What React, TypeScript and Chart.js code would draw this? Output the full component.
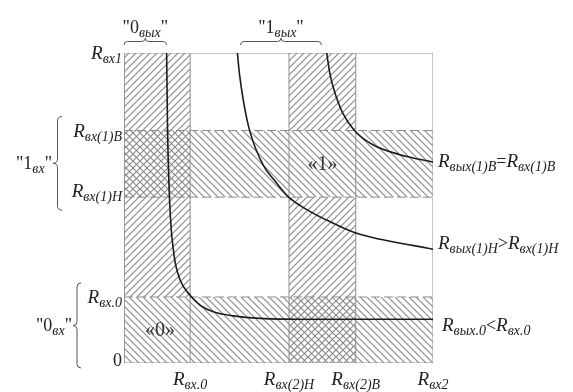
import React, { useEffect, useRef } from "react";
import { Chart, registerables } from "chart.js";

Chart.register(...registerables);

// ---- axis ranges and threshold levels (data units) ----
const X_MIN = 0;
const X_MAX = 10;
const Y_MIN = 0;
const Y_MAX = 10;

// thresholds on the horizontal axis (R_вх2)
const xTickValues = [2.14, 5.34, 7.5, 10];
const xTickLabels = ["R_{вх.0}", "R_{вх(2)Н}", "R_{вх(2)В}", "R_{вх2}"];

// thresholds on the vertical axis (R_вх1)
const yTickValues = [0, 2.13, 5.35, 7.5, 10];
const yTickLabels = ["0", "R_{вх.0}", "R_{вх(1)Н}", "R_{вх(1)В}", "R_{вх1}"];

// ---- transfer curves ----
const curveZeroX = [1.38, 1.41, 1.47, 1.53, 1.56, 1.66, 1.815, 2.13, 2.46, 2.89, 3.54, 4.4, 6.02, 10];
const curveZeroY = [10, 7.52, 5.36, 4.29, 3.97, 3.22, 2.68, 2.19, 1.87, 1.65, 1.52, 1.44, 1.41, 1.41];

const curveLowX = [3.67, 3.74, 3.86, 4.06, 4.5, 4.89, 5.32, 6.0, 6.56, 7.51, 10];
const curveLowY = [10, 9.3, 8.48, 7.52, 6.39, 5.87, 5.36, 4.9, 4.61, 4.19, 3.67];

const curveHighX = [6.56, 6.67, 6.8, 7.08, 7.45, 8.07, 8.93, 10];
const curveHighY = [10, 9.3, 8.8, 8.06, 7.51, 7.03, 6.72, 6.48];

const curveLabels = [
  "R_{вых(1)В}=R_{вх(1)В}",
  "R_{вых(1)Н}>R_{вх(1)Н}",
  "R_{вых.0}<R_{вх.0}",
];

// ---- logic-level annotations ----
const outputLevelLabels = ['"0_{вых}"', '"1_{вых}"'];
const inputLevelLabels = ['"1_{вх}"', '"0_{вх}"'];
const stateLabels = ["«1»", "«0»"];

const HATCH = "#8a8a8a";
const GRID = "#8e8e8e";
const INK = "#222222";
const FONT = '"Liberation Serif", "Times New Roman", serif';

type Seg = { t: string; sub: boolean };

function parseRich(s: string): Seg[] {
  const out: Seg[] = [];
  const re = /_\{([^}]*)\}/g;
  let last = 0;
  let m: RegExpExecArray | null;
  while ((m = re.exec(s))) {
    if (m.index > last) out.push({ t: s.slice(last, m.index), sub: false });
    out.push({ t: m[1], sub: true });
    last = m.index + m[0].length;
  }
  if (last < s.length) out.push({ t: s.slice(last), sub: false });
  return out;
}

function fontFor(ch: string, sub: boolean): string {
  if (sub) return `italic 14px ${FONT}`;
  if (/[A-Za-z]/.test(ch)) return `italic 19px ${FONT}`;
  return `18px ${FONT}`;
}

function pieces(s: string) {
  const res: { t: string; font: string; dy: number }[] = [];
  for (const seg of parseRich(s)) {
    if (seg.sub) {
      res.push({ t: seg.t, font: fontFor("", true), dy: 4 });
    } else {
      for (const ch of seg.t) res.push({ t: ch, font: fontFor(ch, false), dy: 0 });
    }
  }
  return res;
}

function richWidth(ctx: CanvasRenderingContext2D, s: string): number {
  let w = 0;
  for (const p of pieces(s)) {
    ctx.font = p.font;
    w += ctx.measureText(p.t).width;
  }
  return w;
}

function drawRich(
  ctx: CanvasRenderingContext2D,
  s: string,
  x: number,
  y: number,
  align: "left" | "right" | "center"
) {
  const w = richWidth(ctx, s);
  let cx = align === "left" ? x : align === "right" ? x - w : x - w / 2;
  ctx.textAlign = "left";
  ctx.textBaseline = "alphabetic";
  ctx.fillStyle = INK;
  for (const p of pieces(s)) {
    ctx.font = p.font;
    ctx.fillText(p.t, cx, y + p.dy);
    cx += ctx.measureText(p.t).width;
  }
}

function braceV(ctx: CanvasRenderingContext2D, x: number, y1: number, y2: number, w: number) {
  const ym = (y1 + y2) / 2;
  const s = x - w / 2;
  ctx.beginPath();
  ctx.moveTo(x, y1);
  ctx.quadraticCurveTo(s, y1, s, y1 + w / 2);
  ctx.lineTo(s, ym - w / 2);
  ctx.quadraticCurveTo(s, ym, x - w, ym);
  ctx.quadraticCurveTo(s, ym, s, ym + w / 2);
  ctx.lineTo(s, y2 - w / 2);
  ctx.quadraticCurveTo(s, y2, x, y2);
  ctx.stroke();
}

function braceH(ctx: CanvasRenderingContext2D, x1: number, x2: number, y: number, w: number) {
  const xm = (x1 + x2) / 2;
  const s = y - w / 2;
  ctx.beginPath();
  ctx.moveTo(x1, y);
  ctx.quadraticCurveTo(x1, s, x1 + w / 2, s);
  ctx.lineTo(xm - w / 2, s);
  ctx.quadraticCurveTo(xm, s, xm, y - w);
  ctx.quadraticCurveTo(xm, s, xm + w / 2, s);
  ctx.lineTo(x2 - w / 2, s);
  ctx.quadraticCurveTo(x2, s, x2, y);
  ctx.stroke();
}

function makeHatch(ctx: CanvasRenderingContext2D, forward: boolean): CanvasPattern {
  const s = 7;
  const c = document.createElement("canvas");
  c.width = s;
  c.height = s;
  const g = c.getContext("2d")!;
  g.strokeStyle = HATCH;
  g.lineWidth = 1.15;
  g.beginPath();
  if (forward) {
    g.moveTo(-1, s + 1);
    g.lineTo(s + 1, -1);
    g.moveTo(-1, 1);
    g.lineTo(1, -1);
    g.moveTo(s - 1, s + 1);
    g.lineTo(s + 1, s - 1);
  } else {
    g.moveTo(-1, -1);
    g.lineTo(s + 1, s + 1);
    g.moveTo(-1, s - 1);
    g.lineTo(1, s + 1);
    g.moveTo(s - 1, -1);
    g.lineTo(s + 1, 1);
  }
  g.stroke();
  return ctx.createPattern(c, "repeat")!;
}

function zip(xs: number[], ys: number[]) {
  return xs.map((x, i) => ({ x, y: ys[i] }));
}

export default function App() {
  const ref = useRef<HTMLCanvasElement | null>(null);

  useEffect(() => {
    const canvas = ref.current;
    if (!canvas) return;
    const ctx = canvas.getContext("2d")!;
    const slash = makeHatch(ctx, true);
    const back = makeHatch(ctx, false);

    const [x0, xH, xB] = xTickValues;
    const [, y0, yH, yB] = yTickValues;

    const zone = (xa: number, xb: number, ya: number, yb: number, pat: CanvasPattern) => ({
      data: [
        { x: xa, y: yb },
        { x: xb, y: yb },
      ],
      fill: { value: ya },
      backgroundColor: pat,
      borderColor: "rgba(0,0,0,0)",
      borderWidth: 0,
      pointRadius: 0,
      tension: 0,
    });

    const line = (pts: { x: number; y: number }[], dash: number[] = []) => ({
      data: pts,
      fill: false,
      borderColor: GRID,
      borderWidth: 1,
      borderDash: dash,
      pointRadius: 0,
      tension: 0,
    });

    const curve = (xs: number[], ys: number[]) => ({
      data: zip(xs, ys),
      fill: false,
      borderColor: "#1c1c1c",
      borderWidth: 1.6,
      pointRadius: 0,
      cubicInterpolationMode: "monotone" as const,
    });

    const datasets: any[] = [
      curve(curveZeroX, curveZeroY),
      curve(curveLowX, curveLowY),
      curve(curveHighX, curveHighY),
      // frame
      line([
        { x: X_MIN, y: Y_MIN },
        { x: X_MAX, y: Y_MIN },
        { x: X_MAX, y: Y_MAX },
        { x: X_MIN, y: Y_MAX },
        { x: X_MIN, y: Y_MIN },
      ]),
      // vertical threshold lines
      line([{ x: x0, y: Y_MIN }, { x: x0, y: Y_MAX }]),
      line([{ x: xH, y: Y_MIN }, { x: xH, y: Y_MAX }]),
      line([{ x: xB, y: Y_MIN }, { x: xB, y: Y_MAX }]),
      // horizontal dashed threshold lines
      line([{ x: X_MIN, y: y0 }, { x: X_MAX, y: y0 }], [9, 4]),
      line([{ x: X_MIN, y: yH }, { x: X_MAX, y: yH }], [9, 4]),
      line([{ x: X_MIN, y: yB }, { x: X_MAX, y: yB }], [9, 4]),
      // hatched zones
      zone(X_MIN, x0, y0, Y_MAX, slash),
      zone(xH, xB, Y_MIN, yH, slash),
      zone(xH, xB, yB, Y_MAX, slash),
      zone(X_MIN, X_MAX, yH, yB, back),
      zone(X_MIN, X_MAX, Y_MIN, y0, back),
    ];

    const annot = {
      id: "annot",
      afterDraw(chart: any) {
        const c: CanvasRenderingContext2D = chart.ctx;
        const sx = chart.scales.x;
        const sy = chart.scales.y;
        const area = chart.chartArea;
        c.save();

        // x-axis labels
        xTickValues.forEach((v, i) => {
          drawRich(c, xTickLabels[i], sx.getPixelForValue(v), area.bottom + 22, "center");
        });

        // y-axis labels
        const yDy = [3, 6, 0, 6, 6];
        yTickValues.forEach((v, i) => {
          drawRich(c, yTickLabels[i], area.left - 2, sy.getPixelForValue(v) + yDy[i], "right");
        });

        // curve labels at the right edge
        const ends = [curveHighY, curveLowY, curveZeroY].map((a) => a[a.length - 1]);
        const rDy = [5, 0, 12];
        const rDx = [5, 5, 9];
        ends.forEach((v, i) => {
          drawRich(c, curveLabels[i], area.right + rDx[i], sy.getPixelForValue(v) + rDy[i], "left");
        });

        // braces
        c.strokeStyle = "#555";
        c.lineWidth = 1;
        const topY = area.top - 8;
        const b0a = sx.getPixelForValue(X_MIN);
        const b0b = sx.getPixelForValue(curveZeroX[0]);
        const b1a = sx.getPixelForValue(curveLowX[0] + 0.1);
        const b1b = sx.getPixelForValue(curveHighX[0] - 0.17);
        braceH(c, b0a, b0b, topY, 7);
        braceH(c, b1a, b1b, topY, 7);
        drawRich(c, outputLevelLabels[0], (b0a + b0b) / 2, area.top - 20, "center");
        drawRich(c, outputLevelLabels[1], (b1a + b1b) / 2, area.top - 20, "center");

        const v1a = sy.getPixelForValue(yB) - 14;
        const v1b = sy.getPixelForValue(yH) + 13;
        braceV(c, 62, v1a, v1b, 9);
        drawRich(c, inputLevelLabels[0], 52, (v1a + v1b) / 2 + 6, "right");
        const v0a = sy.getPixelForValue(y0) - 14;
        const v0b = sy.getPixelForValue(Y_MIN) + 5;
        braceV(c, 81, v0a, v0b, 8);
        drawRich(c, inputLevelLabels[1], 72, (v0a + v0b) / 2 + 6, "right");

        // state labels
        c.font = `20px ${FONT}`;
        c.fillStyle = "#333";
        c.textAlign = "center";
        c.textBaseline = "middle";
        c.fillText(stateLabels[0], sx.getPixelForValue((xH + xB) / 2), sy.getPixelForValue((yH + yB) / 2) + 1);
        c.fillText(stateLabels[1], sx.getPixelForValue((X_MIN + x0) / 2) + 3, sy.getPixelForValue((Y_MIN + y0) / 2) + 1);

        c.restore();
      },
    };

    const chart = new Chart(canvas, {
      type: "line",
      data: { datasets },
      options: {
        responsive: false,
        animation: false,
        layout: { padding: { left: 124, right: 140, top: 53, bottom: 29 } },
        scales: {
          x: { type: "linear", min: X_MIN, max: X_MAX, display: false },
          y: { type: "linear", min: Y_MIN, max: Y_MAX, display: false },
        },
        plugins: {
          legend: { display: false },
          tooltip: { enabled: false },
        },
        elements: { point: { radius: 0 } },
      },
      plugins: [annot],
    } as any);

    return () => chart.destroy();
  }, []);

  return (
    <div style={{ position: "absolute", left: 0, top: 0, width: 573, height: 392, background: "#fff" }}>
      <canvas ref={ref} width={573} height={392} style={{ display: "block" }} />
    </div>
  );
}
